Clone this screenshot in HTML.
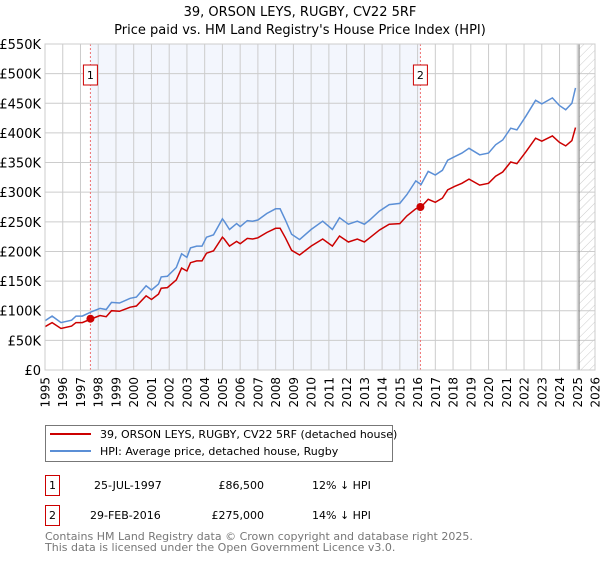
<!DOCTYPE html>
<html><head><meta charset="utf-8"><style>
body{margin:0;background:#fff;font-family:"Liberation Sans","DejaVu Sans",sans-serif;}
svg text{font-family:"DejaVu Sans","Liberation Sans",sans-serif;}
</style></head><body>
<svg id="chart" width="600" height="560" xmlns="http://www.w3.org/2000/svg">
<defs><pattern id="hatch" patternUnits="userSpaceOnUse" width="6" height="6" patternTransform="rotate(45)"><line x1="0" y1="0" x2="0" y2="6" stroke="#ccc" stroke-width="1"/></pattern></defs>
<text x="300" y="16" text-anchor="middle" font-size="13" fill="#000">39, ORSON LEYS, RUGBY, CV22 5RF</text>
<text x="300" y="34" text-anchor="middle" font-size="13" fill="#000">Price paid vs. HM Land Registry's House Price Index (HPI)</text>
<g id="plot"></g>
<g>
<rect x="45.5" y="425.5" width="347" height="36" fill="#fff" stroke="#777"/>
<line x1="50" y1="434" x2="91" y2="434" stroke="#cc0000" stroke-width="2"/>
<text x="100" y="438" font-size="11">39, ORSON LEYS, RUGBY, CV22 5RF (detached house)</text>
<line x1="50" y1="451" x2="91" y2="451" stroke="#5b8fd6" stroke-width="2"/>
<text x="100" y="455" font-size="11">HPI: Average price, detached house, Rugby</text>
</g>
<g font-size="11">
<rect x="45.5" y="475.5" width="14" height="20" fill="#fff" stroke="#cc0000"/><text x="52.5" y="489" text-anchor="middle">1</text>
<text x="94" y="489">25-JUL-1997</text><text x="264" y="489" text-anchor="end">£86,500</text><text x="312" y="489">12% ↓ HPI</text>
<rect x="45.5" y="505.5" width="14" height="20" fill="#fff" stroke="#cc0000"/><text x="52.5" y="519" text-anchor="middle">2</text>
<text x="90" y="519">29-FEB-2016</text><text x="264" y="519" text-anchor="end">£275,000</text><text x="312" y="519">14% ↓ HPI</text>
</g>
<text x="45" y="540" font-size="11" fill="#777">Contains HM Land Registry data © Crown copyright and database right 2025.</text>
<text x="45" y="551" font-size="11" fill="#777">This data is licensed under the Open Government Licence v3.0.</text>
</svg>
<script>
const years=[1995.0,1995.4,1995.9,1996.5,1996.75,1997.1,1997.6,1998.1,1998.45,1998.75,1999.2,1999.8,2000.15,2000.7,2001.0,2001.4,2001.55,2001.9,2002.4,2002.7,2003.0,2003.2,2003.55,2003.85,2004.1,2004.5,2005.0,2005.1,2005.4,2005.8,2006.0,2006.4,2006.7,2007.0,2007.5,2008.0,2008.25,2008.55,2008.9,2009.35,2010.0,2010.65,2011.2,2011.6,2012.1,2012.6,2013.0,2013.3,2013.85,2014.4,2015.0,2015.4,2015.9,2016.2,2016.6,2017.0,2017.4,2017.7,2018.1,2018.5,2018.9,2019.5,2020.0,2020.4,2020.8,2021.25,2021.6,2022.1,2022.65,2023.0,2023.6,2024.0,2024.35,2024.7,2024.9];
const hpiValues=[83,91,80,84,91,91,98,104,102,114,113,121,123,142,135,145,157,158,173,196,190,206,209,209,224,228,255,251,237,247,242,252,251,253,264,272,272,253,229,220,237,251,237,257,246,251,246,253,268,279,281,296,319,313,335,329,337,354,360,366,374,363,366,380,388,408,405,428,455,449,459,446,439,450,476];
const priceValues=[73,80,70,74,80,80,86,92,90,100,99,106,108,125,119,128,138,139,152,172,167,181,184,184,197,201,224,221,209,217,213,222,221,223,232,239,239,223,202,194,209,221,209,226,216,221,216,223,236,246,247,260,272,275,288,283,290,304,310,315,322,312,315,327,334,351,348,368,391,386,395,384,378,387,409];
const saleYears=[1997.56,2016.16];
const salePrices=[86.5,275];
const saleLabels=["1","2"];
const yTicks=[0,50,100,150,200,250,300,350,400,450,500,550];
const xTicks=[1995,1996,1997,1998,1999,2000,2001,2002,2003,2004,2005,2006,2007,2008,2009,2010,2011,2012,2013,2014,2015,2016,2017,2018,2019,2020,2021,2022,2023,2024,2025,2026];
const X0=45,X1=595,Y0=370,Y1=44;
const xs=y=>X0+(y-1995)/(2026-1995)*(X1-X0);
const ys=v=>Y0-v/550*(Y0-Y1);
const NS="http://www.w3.org/2000/svg";
const g=document.getElementById('plot');
function mk(t,a){const e=document.createElementNS(NS,t);for(const k in a)e.setAttribute(k,a[k]);g.appendChild(e);return e;}
let e;
e=mk('rect',{x:xs(saleYears[0]),y:Y1,width:xs(saleYears[1])-xs(saleYears[0]),height:Y0-Y1,fill:'#f3f6fd'});


e=mk('rect',{x:xs(2025.1),y:Y1,width:X1-xs(2025.1),height:Y0-Y1,fill:'url(#hatch)'});


yTicks.forEach(v=>{
 e=mk('line',{x1:X0,x2:X1,y1:ys(v),y2:ys(v),stroke:'#ccc','stroke-width':1});
 
 
 e=mk('text',{x:X0-4,y:ys(v)+5,'text-anchor':'end','font-size':13,fill:'#000'});
 e.textContent=v===0?'£0':'£'+v+'K';
 
 
});
xTicks.forEach(t=>{
 e=mk('line',{x1:xs(t),x2:xs(t),y1:Y1,y2:Y0,stroke:'#ccc','stroke-width':1});
 
 
 const tx=xs(t)+4.5,ty=Y0+7;
 e=mk('text',{x:tx,y:ty,'text-anchor':'end','font-size':12,fill:'#000',transform:'rotate(-90 '+tx+' '+ty+')'});
 e.textContent=t;
 
 
});
e=mk('line',{x1:xs(2025.1),x2:xs(2025.1),y1:Y1,y2:Y0,stroke:'#888','stroke-width':1.2});


saleYears.forEach((sy,i)=>{
 e=mk('line',{x1:xs(sy),x2:xs(sy),y1:Y1,y2:Y0,stroke:'#f07070','stroke-width':1,'stroke-dasharray':'2,2'});
 
 
 e=mk('rect',{x:xs(sy)-7,y:65,width:14,height:20,fill:'#fff',stroke:'#cc0000'});
 
 
 e=mk('text',{x:xs(sy),y:79,'text-anchor':'middle','font-size':11});
 e.textContent=saleLabels[i];
 
 
});
const path=a=>a.map((v,i)=>(i?'L':'M')+xs(years[i]).toFixed(1)+','+ys(v).toFixed(1)).join('');
e=mk('path',{d:path(hpiValues),fill:'none',stroke:'#5b8fd6','stroke-width':1.5});


e=mk('path',{d:path(priceValues),fill:'none',stroke:'#cc0000','stroke-width':1.5});


saleYears.forEach((sy,i)=>{
 e=mk('circle',{cx:xs(sy),cy:ys(salePrices[i]),r:4,fill:'#cc0000'});
 
 
});
e=mk('rect',{x:X0,y:Y1,width:X1-X0,height:Y0-Y1,fill:'none',stroke:'#ccc'});


</script>
</body></html>
